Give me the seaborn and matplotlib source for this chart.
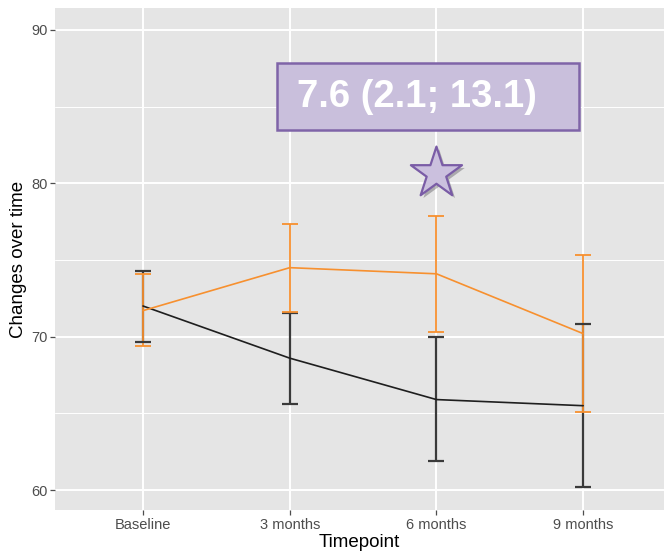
import matplotlib
matplotlib.use("Agg")
import matplotlib.pyplot as plt
import matplotlib.patheffects as pe
from matplotlib.patches import Rectangle
import numpy as np
import pandas as pd
import seaborn as sns

# Timepoints and group summaries (mean with lower/upper interval)
timepoints = ["Baseline", "3 months", "6 months", "9 months"]

control_mean = [72.0, 68.6, 65.9, 65.5]
control_low = [69.65, 65.6, 61.9, 60.2]
control_high = [74.3, 71.55, 70.0, 70.8]

treated_mean = [71.7, 74.5, 74.1, 70.2]
treated_low = [69.4, 71.6, 70.3, 65.1]
treated_high = [74.1, 77.35, 77.9, 75.3]

y_ticks = [60, 70, 80, 90]
effect_label = "7.6 (2.1; 13.1)"
star_time = "6 months"
star_value = 80.64

sns.set_theme(style="darkgrid", rc={
    "axes.facecolor": "#E5E5E5",
    "grid.color": "white",
    "figure.facecolor": "white",
})
plt.rcParams["font.family"] = ["Liberation Sans", "DejaVu Sans"]

df = pd.DataFrame({
    "pos": list(range(len(timepoints))) * 2,
    "value": control_mean + treated_mean,
    "low": control_low + treated_low,
    "high": control_high + treated_high,
    "group": ["control"] * 4 + ["treated"] * 4,
})
colors = {"control": "#1E1E1E", "treated": "#F7902F"}
bar_colors = {"control": "#3A3A3A", "treated": "#F7902F"}

fig = plt.figure(figsize=(6.64, 5.52), dpi=100)
ax = fig.add_axes([55 / 664, 1 - 510 / 552, 1 - 55 / 664, (510 - 8) / 552])

for g, z in [("control", 3), ("treated", 4)]:
    d = df[df["group"] == g]
    ax.errorbar(d["pos"], d["value"],
                yerr=[d["value"] - d["low"], d["high"] - d["value"]],
                fmt="none", ecolor=bar_colors[g],
                elinewidth=1.6 if g == "control" else 1.3,
                capsize=5.5, capthick=1.6 if g == "control" else 1.3,
                zorder=z)

sns.lineplot(data=df, x="pos", y="value", hue="group", palette=colors,
             linewidth=1.2, legend=False, ax=ax, zorder=5,
             estimator=None, sort=False)
for ln in ax.lines:
    ln.set_zorder(5)

ax.set_xlim(-0.6, 3.551)
ax.set_ylim(58.70, 91.43)
ax.set_xticks(range(len(timepoints)))
ax.set_xticklabels(timepoints)
ax.set_yticks(y_ticks)
ax.set_yticks([65, 75, 85], minor=True)
ax.grid(which="major", color="white", linewidth=1.4)
ax.grid(which="minor", axis="y", color="white", linewidth=0.7)
ax.tick_params(axis="both", which="major", length=3.5, width=0.9,
               color="#4D4D4D", labelcolor="#4D4D4D", labelsize=10.5, pad=2,
               direction="out", bottom=True, left=True)
ax.tick_params(which="minor", length=0)
for s in ax.spines.values():
    s.set_visible(False)

ax.set_xlabel("Timepoint", fontsize=13.5, color="black", labelpad=2)
ax.set_ylabel("Changes over time", fontsize=13.5, color="black", labelpad=3)

# Effect estimate box
ax.add_patch(Rectangle((0.912, 83.48), 2.061, 4.37, facecolor="#C9BFDC",
                       edgecolor="#7F64A8", linewidth=1.8, zorder=6))
ax.text(1.05, 85.62, effect_label, fontsize=27.5, fontweight="bold",
        color="white", ha="left", va="center", zorder=7)

# Significance star
ax.scatter([timepoints.index(star_time)], [star_value], marker="*", s=1500,
           facecolor="#CBC0DE", edgecolor="#7A5CA6", linewidth=1.6, zorder=7,
           path_effects=[pe.SimplePatchShadow(offset=(2, -2), alpha=0.35),
                         pe.Normal()])

fig.savefig("out.png", dpi=100)
